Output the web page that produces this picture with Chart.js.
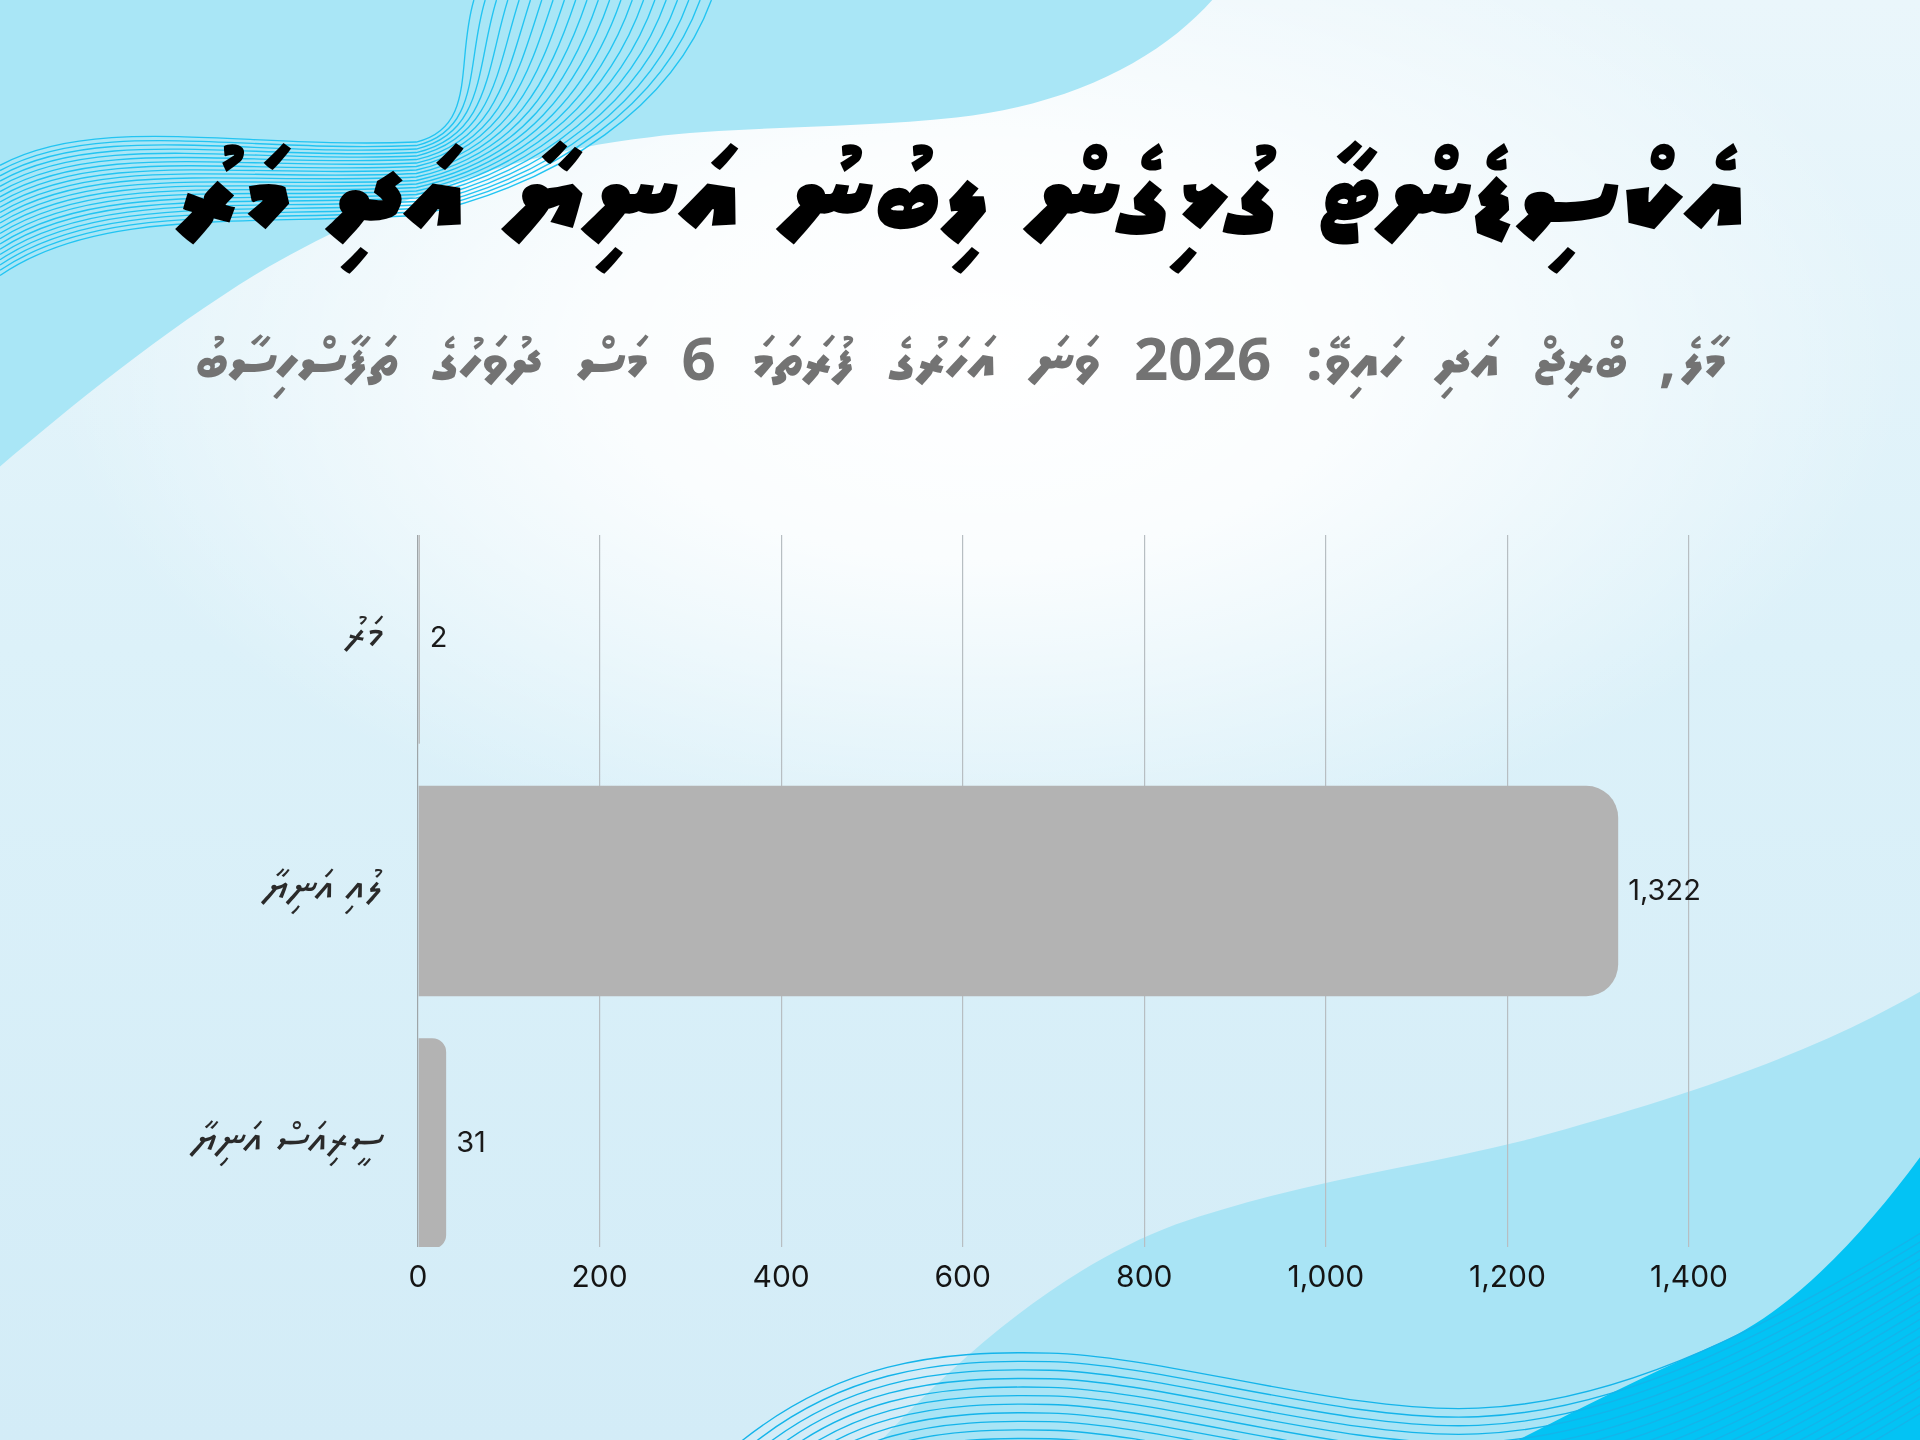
<!DOCTYPE html>
<html lang="dv">
<head>
<meta charset="utf-8">
<script src="https://cdn.jsdelivr.net/npm/chart.js@4.4.1/dist/chart.umd.min.js"></script>
<style>
  html, body { margin: 0; padding: 0; }
  body { width: 1920px; height: 1440px; position: relative; overflow: hidden; background: #d7eff9; }
  #bg, #chart { position: absolute; left: 0; top: 0; }
  .head {
    position: absolute; left: 0; width: 1920px; text-align: center; direction: rtl;
    font-family: 'Noto Sans Thaana', 'MV Faseyha', Faruma, 'DejaVu Sans', sans-serif;
    line-height: 1; white-space: nowrap;
  }
  #title { top: 135px; font-size: 121px; font-weight: 900; color: #000; word-spacing: 6px; }
  #subtitle { top: 331px; font-size: 60px; font-weight: 700; color: #737373; word-spacing: 19px; }
</style>
</head>
<body>
<svg id="bg" width="1920" height="1440" viewBox="0 0 1568 1176" preserveAspectRatio="none">
  <defs>
    <linearGradient id="base" x1="0" y1="0" x2="0" y2="1">
      <stop offset="0" stop-color="#eaf6fb"/>
      <stop offset="0.45" stop-color="#dcf1f9"/>
      <stop offset="1" stop-color="#d3ecf7"/>
    </linearGradient>
    <radialGradient id="glow" cx="0" cy="0" r="1" gradientUnits="userSpaceOnUse"
                    gradientTransform="translate(800 290) scale(760 420)">
      <stop offset="0" stop-color="#ffffff" stop-opacity="1"/>
      <stop offset="0.4" stop-color="#ffffff" stop-opacity="0.85"/>
      <stop offset="1" stop-color="#ffffff" stop-opacity="0"/>
    </radialGradient>
  </defs>
  <rect width="1568" height="1176" fill="url(#base)"/>
  <rect width="1568" height="1176" fill="url(#glow)"/>
  <!-- top-left wave -->
  <path d="M0,0 L990,0 C950,45 880,85 781,96 C700,105 600,103 531,112 C440,122 330,155 219,218 C140,265 60,330 0,381 Z" fill="#a9e6f6"/>
  <g id="topLines" fill="none" stroke="#22c4f2" stroke-width="1.1"></g>
  <!-- bottom waves -->
  <path d="M720,1176 C800,1090 880,1030 960,1000 C1060,965 1150,955 1250,930 C1380,895 1480,860 1568,810 L1568,1176 Z" fill="#a9e4f5"/>
  <path d="M1568,945 C1520,1010 1460,1075 1397,1100 C1340,1125 1290,1150 1240,1176 L1568,1176 Z" fill="#03c3f4"/>
  <g id="bottomLines" fill="none" stroke="#14b4ea" stroke-width="1.1"></g>
</svg>
<canvas id="chart" width="1920" height="1440"></canvas>
<div id="title" class="head">އެކްސިޑެންޓާ ގުޅިގެން ލިބުނު އަނިޔާ އަދި މަރު</div>
<div id="subtitle" class="head">މާލެ، ބްރިޖް އަދި ހައިވޭ: 2026 ވަނަ އަހަރުގެ ފުރަތަމަ 6 މަސް ދުވަހުގެ ތަފާސްހިސާބު</div>
<script>
// chart data
var categories = ['މަރު', 'ލުއި އަނިޔާ', 'ސީރިއަސް އަނިޔާ'];
var counts = [2, 1322, 31];
var xTicks = [0, 200, 400, 600, 800, 1000, 1200, 1400];

// background line bundles (decoration only)
(function () {
    var ns = 'http://www.w3.org/2000/svg';
    var top = document.getElementById('topLines');
    for (var i = 0; i < 22; i++) {
        var t = i / 21;
        var p = document.createElementNS(ns, 'path');
        p.setAttribute('d',
            'M0,' + (135 + 90 * t) +
            ' C80,' + (92 + 78 * t) + ' 200,' + (122 + 62 * t) + ' 340,' + (116 + 60 * t) +
            ' C' + (390 + 70 * t) + ',' + (104 + 46 * t) + ' ' + (372 + 178 * t) + ',' + (50 + 35 * t) +
            ' ' + (387 + 194 * t) + ',0');
        top.appendChild(p);
    }
    var bottom = document.getElementById('bottomLines');
    for (var j = 0; j < 22; j++) {
        var d = j * 7;
        var q = document.createElementNS(ns, 'path');
        q.setAttribute('d',
            'M' + (590 + j * 4) + ',' + (1190 + d) +
            ' C680,' + (1110 + d) + ' 770,' + (1103 + d) + ' 857,' + (1105 + d) +
            ' C950,' + (1107 + d) + ' 1100,' + (1155 + d) + ' 1207,' + (1150 + d) +
            ' C1330,' + (1145 + d) + ' 1450,' + (1080 + d) + ' 1580,' + (1000 + d));
        bottom.appendChild(q);
    }
})();

// numbers at the end of each bar
var valueLabels = {
    id: 'valueLabels',
    afterDatasetsDraw: function (chart) {
        var ctx = chart.ctx;
        var meta = chart.getDatasetMeta(0);
        ctx.save();
        ctx.font = '29px Inter';
        ctx.fillStyle = '#1a1a1a';
        ctx.textBaseline = 'middle';
        ctx.textAlign = 'left';
        meta.data.forEach(function (bar, i) {
            ctx.fillText(counts[i].toLocaleString('en-US'), bar.x + 10, bar.y);
        });
        ctx.restore();
    }
};

var ctx = document.getElementById('chart').getContext('2d');
new Chart(ctx, {
    type: 'bar',
    data: {
        datasets: [{
            data: counts.map(function (v, i) { return { x: v, y: i }; }),
            backgroundColor: '#b3b3b3',
            borderRadius: 32,
            borderSkipped: 'start',
            categoryPercentage: 1,
            barPercentage: 0.834
        }]
    },
    options: {
        indexAxis: 'y',
        responsive: false,
        devicePixelRatio: 1,
        animation: false,
        layout: { padding: { top: 535, right: 231, bottom: 0, left: 0 } },
        plugins: {
            legend: { display: false },
            tooltip: { enabled: false }
        },
        scales: {
            x: {
                type: 'linear',
                min: 0,
                max: 1400,
                grid: {
                    color: function (c) { return c.tick && c.tick.value === 0 ? '#9ea5a8' : '#b7bec2'; },
                    lineWidth: 1.2,
                    drawTicks: false
                },
                border: { display: false },
                ticks: {
                    padding: 13,
                    color: '#141414',
                    font: { family: 'Inter', size: 30 },
                    callback: function (value) { return value.toLocaleString('en-US'); }
                },
                afterBuildTicks: function (axis) {
                    axis.ticks = xTicks.map(function (v) { return { value: v }; });
                },
                afterFit: function (scale) { scale.height = 193; }
            },
            y: {
                type: 'linear',
                reverse: true,
                offset: false,
                min: -0.41,
                max: 2.41,
                grid: { display: false, offset: false },
                border: { display: false },
                ticks: {
                    stepSize: 1,
                    includeBounds: false,
                    padding: 27,
                    color: '#2a2a2a',
                    font: { family: "'Noto Sans Thaana', 'MV Faseyha', Faruma, 'DejaVu Sans', sans-serif", size: 44 },
                    callback: function (value) { return categories[value] || ''; }
                },
                afterFit: function (scale) { scale.width = 418; }
            }
        }
    },
    plugins: [valueLabels]
});
</script>
</body>
</html>
